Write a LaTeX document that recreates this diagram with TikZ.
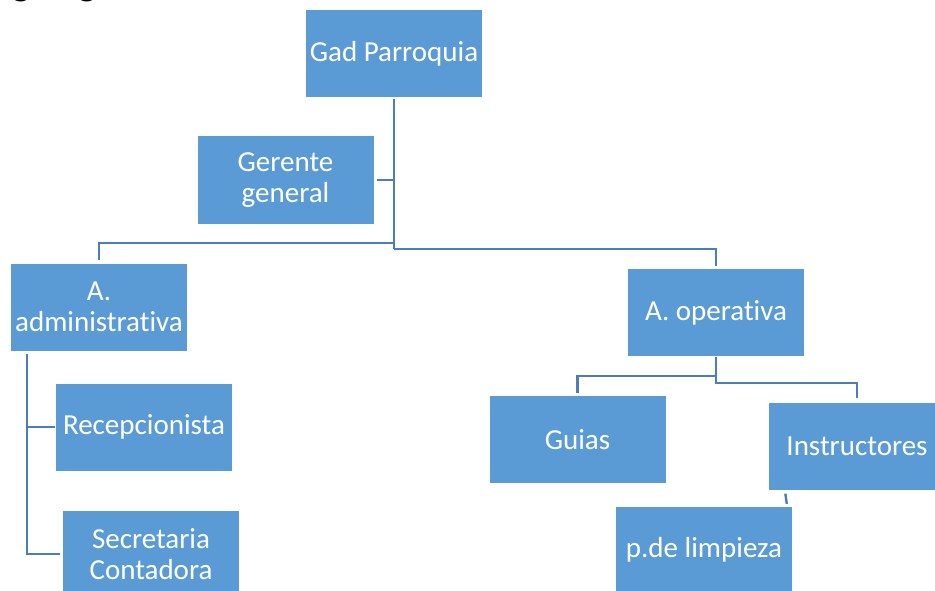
\documentclass[tikz,border=0pt]{standalone}
\usepackage{fontspec}
\setmainfont{Carlito}[Ligatures={NoCommon,NoContextual,NoRequired},Contextuals=NoAlternate]
\definecolor{boxblue}{HTML}{5B9BD5}
\definecolor{lineblue}{HTML}{4A7EBB}
\begin{document}
\begin{tikzpicture}[x=1pt,y=-1pt,
  box/.style={rectangle,fill=boxblue,draw=none,text=white,align=center,
    minimum width=176pt,minimum height=87pt,inner sep=0pt,
    font=\fontsize{29}{31}\selectfont},
  conn/.style={draw=lineblue,line width=2.4pt}]
\useasboundingbox (0,0) rectangle (935,591);
\clip (0,0) rectangle (935,591);
\node[anchor=base west,inner sep=0pt,font=\bfseries\fontsize{38}{40}\selectfont] (title) at (-26,-4) {Organigrama};
\node[box] (gad) at (394,53.5) {Gad Parroquia};
\node[box] (ger) at (285.5,180) {Gerente\\general};
\node[box] (adm) at (99,307) {A.\\administrativa};
\node[box] (rec) at (144,427) {Recepcionista};
\node[box,minimum height=86pt] (sec) at (151,554) {Secretaria\\Contadora};
\node[box] (op) at (716,312.5) {A. operativa};
\node[box] (gui) at (577.5,439.5) {Guias};
\node[box] (ins) at (857,446) {Instructores};
\node[box,minimum height=86pt] (limp) at (704,550) {p.de limpieza};
\coordinate (j1) at (394,243);
\coordinate (j2) at (394,249);
\coordinate (o1) at (716,376);
\coordinate (o2) at (716,383);
% top level
\draw[conn,shorten <=2pt] (gad.south) -- (j2);
\draw[conn,shorten <=3pt] (ger.east) -- (ger.east -| gad.south);
\draw[conn,shorten >=3pt] (j1) -| (adm.north);
\draw[conn,shorten >=3pt] (j2) -| (op.north);
% administrative branch
\draw[conn,shorten <=3pt,shorten >=3pt] ([xshift=16pt]adm.south west) |- (sec.west);
\draw[conn,shorten >=1pt] ([xshift=16pt]adm.south west |- rec.west) -- (rec.west);
% operative branch
\draw[conn,shorten <=1pt,shorten >=4pt] (op.south) -- (o2) -| (ins.north);
\draw[conn,shorten >=3pt] (o1) -| (gui.north);
\draw[conn,shorten <=4pt,shorten >=3pt] ([xshift=16pt]ins.south west) -- ([xshift=-5pt]limp.north east);
\end{tikzpicture}
\end{document}
